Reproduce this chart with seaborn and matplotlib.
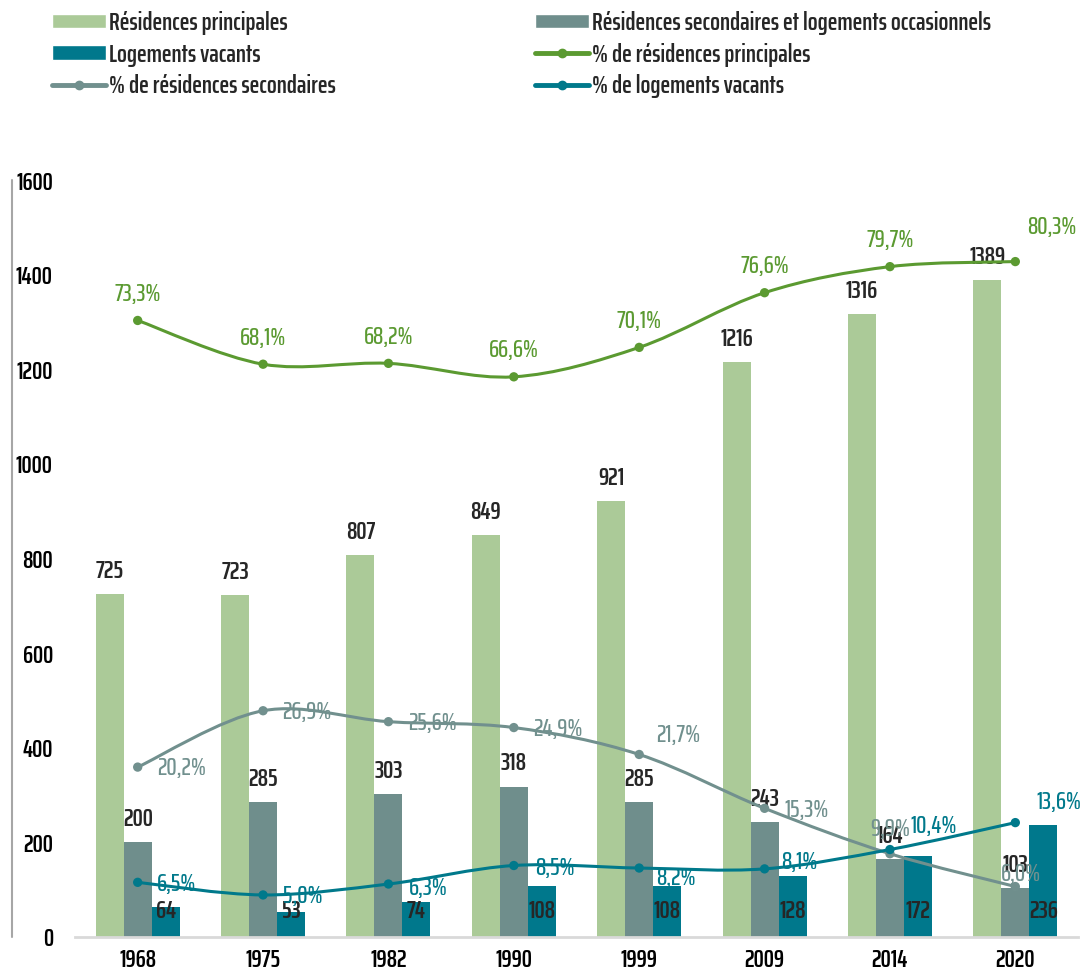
import numpy as np
import pandas as pd
import matplotlib.pyplot as plt
import seaborn as sns
from matplotlib.path import Path
from matplotlib.patches import PathPatch, Patch
from matplotlib.lines import Line2D

# données
years = ['1968', '1975', '1982', '1990', '1999', '2009', '2014', '2020']
res_princ = [725, 723, 807, 849, 921, 1216, 1316, 1389]
res_sec = [200, 285, 303, 318, 285, 243, 164, 103]
log_vac = [64, 53, 74, 108, 108, 128, 172, 236]
pct_princ = [73.3, 68.1, 68.2, 66.6, 70.1, 76.6, 79.7, 80.3]
pct_sec = [20.2, 26.9, 25.6, 24.9, 21.7, 15.3, 9.9, 6.0]
pct_vac = [6.5, 5.0, 6.3, 8.5, 8.2, 8.1, 10.4, 13.6]

lab_princ = 'Résidences principales'
lab_sec = 'Résidences secondaires et logements occasionnels'
lab_vac = 'Logements vacants'

c_princ = '#ABCA98'
c_sec = '#6F8E8C'
c_vac = '#00788C'
cl_princ = '#5B9A31'
cl_sec = '#71908E'
cl_vac = '#00798B'

sns.set_style('white')
FONT = ['Saira ExtraCondensed', 'DejaVu Sans']
plt.rcParams['font.family'] = FONT
FS = 18.5
W = 600

df = pd.DataFrame({'annee': years * 3,
                   'valeur': res_princ + res_sec + log_vac,
                   'type': [lab_princ] * 8 + [lab_sec] * 8 + [lab_vac] * 8})

fig = plt.figure(figsize=(10.85, 9.73), dpi=100)
ax = fig.add_axes([75 / 1085, 36 / 973, 1003 / 1085, 757 / 973])

sns.barplot(data=df, x='annee', y='valeur', hue='type', order=years,
            hue_order=[lab_princ, lab_sec, lab_vac],
            palette=[c_princ, c_sec, c_vac], saturation=1, width=0.67, gap=0,
            linewidth=0, ax=ax, legend=False)
ax.set_xlim(-0.5, 7.5)
ax.set_ylim(0, 1600)
ax.set_yticks(range(0, 1601, 200))
ax.set_xlabel('')
ax.set_ylabel('')
for s in ['top', 'right', 'left']:
    ax.spines[s].set_visible(False)
ax.spines['bottom'].set_color('#D9D9D9')
ax.spines['bottom'].set_linewidth(2)
ax.tick_params(axis='y', length=0, pad=16, labelsize=FS, labelcolor='black')
ax.tick_params(axis='x', length=0, pad=8, labelsize=FS, labelcolor='black')
for t in ax.get_xticklabels() + ax.get_yticklabels():
    t.set_fontweight(W)
# trait vertical à gauche
ax.plot([-63 / 1003, -63 / 1003], [0, 1600], transform=ax.get_yaxis_transform(),
        color='#A6A6A6', lw=1.5, clip_on=False)

# étiquettes des barres
ax.bar_label(ax.containers[0], padding=8, fontsize=FS, fontweight=W)
ax.bar_label(ax.containers[1], padding=8, fontsize=FS, fontweight=W)
for rect, v in zip(ax.containers[2], log_vac):
    ax.text(rect.get_x() + rect.get_width() / 2, 55, str(v), ha='center',
            va='center', fontsize=FS, fontweight=W)

# axe secondaire (masqué) pour les pourcentages
ax2 = ax.twinx()
ax2.set_ylim(0, 90)
ax2.axis('off')


def smooth_path(xs, ys):
    pts = np.column_stack([xs, ys]).astype(float)
    verts = [pts[0]]
    codes = [Path.MOVETO]
    n = len(pts)
    for i in range(n - 1):
        p0 = pts[i - 1] if i > 0 else pts[i]
        p1 = pts[i]
        p2 = pts[i + 1]
        p3 = pts[i + 2] if i + 2 < n else pts[i + 1]
        verts += [p1 + (p2 - p0) / 6, p2 - (p3 - p1) / 6, p2]
        codes += [Path.CURVE4] * 3
    return Path(verts, codes)


xpos = np.arange(len(years))


def fmt(v):
    return ('%.1f%%' % v).replace('.', ',')


series = [
    (pct_princ, cl_princ, {}, 'above'),
    (pct_sec, cl_sec, {4: (12, 14, 'left'), 6: (0, 18, 'center'), 7: (4, 9, 'center')}, 'right'),
    (pct_vac, cl_vac, {2: (15, -3, 'left'), 3: (15, -2, 'left'), 4: (12, -7, 'left'),
                       5: (12, 5, 'left'), 6: (15, 17, 'left'), 7: (15, 15, 'left')}, 'right'),
]
for vals, col, special, mode in series:
    ax2.add_patch(PathPatch(smooth_path(xpos, vals), fill=False, edgecolor=col,
                            lw=2.2, zorder=3, capstyle='round'))
    sns.scatterplot(x=xpos, y=vals, color=col, s=45, edgecolor='none', ax=ax2,
                    zorder=4, legend=False)
    for i, v in enumerate(vals):
        if mode == 'above':
            dx, dy, ha = 0, 19, 'center'
            if i == len(vals) - 1:
                dx, dy = 26, 25
        else:
            dx, dy, ha = 14, -1, 'left'
        if i in special:
            dx, dy, ha = special[i]
        ax2.annotate(fmt(v), (i, v), xytext=(dx, dy), textcoords='offset points',
                     ha=ha, va='center', color=col, fontsize=FS, fontweight=500, zorder=5)
ax2.set_xlim(-0.5, 7.5)

# légende
h1 = [Patch(facecolor=c_princ, label=lab_princ),
      Patch(facecolor=c_vac, label=lab_vac),
      Line2D([0], [0], color=cl_sec, lw=3.5, marker='o', ms=6, label='% de résidences secondaires')]
h2 = [Patch(facecolor=c_sec, label=lab_sec),
      Line2D([0], [0], color=cl_princ, lw=3.5, marker='o', ms=6, label='% de résidences principales'),
      Line2D([0], [0], color=cl_vac, lw=3.5, marker='o', ms=6, label='% de logements vacants')]
for hs, x0 in [(h1, 52), (h2, 535)]:
    fig.legend(handles=hs, loc='upper left', bbox_to_anchor=(x0 / 1085, 1 - 11 / 973),
               frameon=False, borderpad=0, borderaxespad=0, handlelength=2.1,
               handleheight=0.5, handletextpad=0.1, labelspacing=0.3,
               prop={'size': FS, 'weight': W})

fig.savefig('out.png', dpi=100)
